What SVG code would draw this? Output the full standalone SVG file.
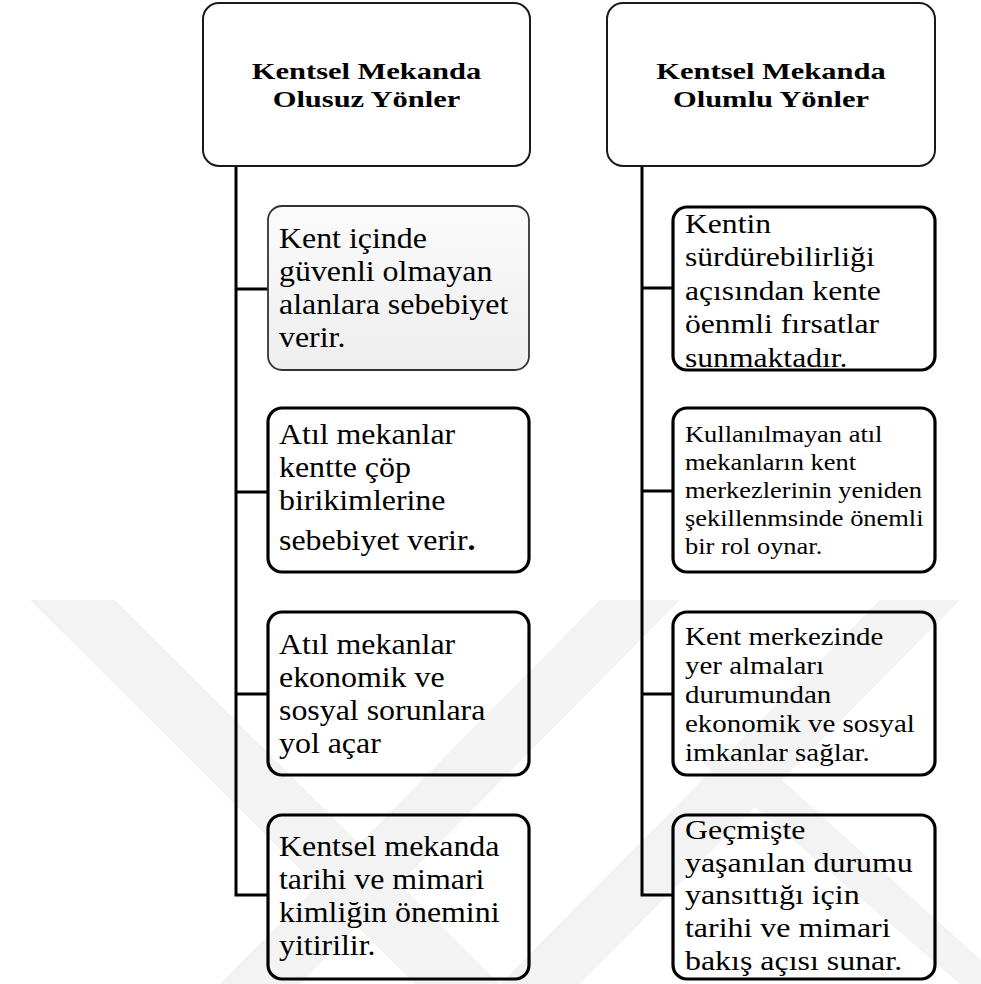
<svg xmlns="http://www.w3.org/2000/svg" width="981" height="984" viewBox="0 0 981 984">
<defs>
<linearGradient id="g1" x1="0" y1="0" x2="0" y2="1">
<stop offset="0" stop-color="#fbfbfb"/>
<stop offset="1" stop-color="#eeeeee"/>
</linearGradient>
<style>
.wm{fill:#f3f3f3}
.head{fill:#ffffff;stroke:#1a1a1a;stroke-width:2}
.box{fill:none;stroke:#000;stroke-width:3.2}
.soft{fill:url(#g1);stroke:#333;stroke-width:1.8}
.conn{fill:none;stroke:#000;stroke-width:3}
.t{font-family:"Liberation Serif","Times New Roman",serif;fill:#000}
.h{font-family:"Liberation Serif","Times New Roman",serif;font-weight:bold;font-size:24px;fill:#000;text-anchor:middle}
</style>
</defs>
<rect width="981" height="984" fill="#fff"/>
<g id="watermark">
<polygon class="wm" points="30,600 115,600 500,984 415,984"/>
<polygon class="wm" points="600,600 680,600 300,984 220,984"/>
<polygon class="wm" points="880,600 960,600 580,984 500,984"/>
<polygon class="wm" points="700,760 760,760 981,960 981,984 960,984"/>
</g>
<g id="connectors">
<path class="conn" d="M236,165 V895 H268 M236,289 H268 M236,492 H268 M236,694 H268"/>
<path class="conn" d="M642,167 V895 H673 M642,288 H673 M642,491 H673 M642,694 H673"/>
</g>
<g id="head-left">
<rect class="head" x="203" y="3" width="327" height="163" rx="16"/>
<text class="h" transform="translate(366.5,79) scale(1.27,1)">Kentsel Mekanda</text>
<text class="h" transform="translate(366.5,107) scale(1.27,1)">Olusuz Yönler</text>
</g>
<g id="head-right">
<rect class="head" x="607" y="3" width="328" height="163" rx="16"/>
<text class="h" transform="translate(771,79) scale(1.27,1)">Kentsel Mekanda</text>
<text class="h" transform="translate(771,107) scale(1.27,1)">Olumlu Yönler</text>
</g>
<g id="left-1">
<rect class="soft" x="268" y="206" width="261" height="164" rx="14"/>
<text class="t" font-size="29" transform="translate(279,248) scale(1.1,1)"><tspan x="0" y="0">Kent içinde</tspan><tspan x="0" y="33">güvenli olmayan</tspan><tspan x="0" y="66">alanlara sebebiyet</tspan><tspan x="0" y="99">verir.</tspan></text>
</g>
<g id="left-2">
<rect class="box" x="268" y="408" width="261" height="164" rx="14"/>
<text class="t" font-size="29" transform="translate(279,444) scale(1.1,1)"><tspan x="0" y="0">Atıl mekanlar</tspan><tspan x="0" y="33">kentte çöp</tspan><tspan x="0" y="66">birikimlerine</tspan><tspan x="0" y="106">sebebiyet verir<tspan font-weight="bold">.</tspan></tspan></text>
</g>
<g id="left-3">
<rect class="box" x="268" y="612" width="261" height="163" rx="14"/>
<text class="t" font-size="29" transform="translate(279,654) scale(1.1,1)"><tspan x="0" y="0">Atıl mekanlar</tspan><tspan x="0" y="33">ekonomik ve</tspan><tspan x="0" y="66">sosyal sorunlara</tspan><tspan x="0" y="99">yol açar</tspan></text>
</g>
<g id="left-4">
<rect class="box" x="268" y="815" width="261" height="164" rx="14"/>
<text class="t" font-size="29" transform="translate(279,856) scale(1.1,1)"><tspan x="0" y="0">Kentsel mekanda</tspan><tspan x="0" y="33">tarihi ve mimari</tspan><tspan x="0" y="66">kimliğin önemini</tspan><tspan x="0" y="99">yitirilir.</tspan></text>
</g>
<g id="right-1">
<rect class="box" x="673" y="207" width="262" height="163" rx="14"/>
<text class="t" font-size="28" transform="translate(685,233) scale(1.13,1)"><tspan x="0" y="0">Kentin</tspan><tspan x="0" y="33.5">sürdürebilirliği</tspan><tspan x="0" y="67">açısından kente</tspan><tspan x="0" y="100.5">öenmli fırsatlar</tspan><tspan x="0" y="134">sunmaktadır.</tspan></text>
</g>
<g id="right-2">
<rect class="box" x="673" y="408" width="262" height="164" rx="14"/>
<text class="t" font-size="23" transform="translate(685,442) scale(1.15,1)"><tspan x="0" y="0">Kullanılmayan atıl</tspan><tspan x="0" y="28">mekanların kent</tspan><tspan x="0" y="56">merkezlerinin yeniden</tspan><tspan x="0" y="84">şekillenmsinde önemli</tspan><tspan x="0" y="112">bir rol oynar.</tspan></text>
</g>
<g id="right-3">
<rect class="box" x="673" y="612" width="262" height="163" rx="14"/>
<text class="t" font-size="25.5" transform="translate(685,645) scale(1.135,1)"><tspan x="0" y="0">Kent merkezinde</tspan><tspan x="0" y="29">yer almaları</tspan><tspan x="0" y="58">durumundan</tspan><tspan x="0" y="87">ekonomik ve sosyal</tspan><tspan x="0" y="116">imkanlar sağlar.</tspan></text>
</g>
<g id="right-4">
<rect class="box" x="673" y="815" width="262" height="164" rx="14"/>
<text class="t" font-size="28" transform="translate(685,839) scale(1.14,1)"><tspan x="0" y="0">Geçmişte</tspan><tspan x="0" y="33">yaşanılan durumu</tspan><tspan x="0" y="65">yansıttığı için</tspan><tspan x="0" y="98">tarihi ve mimari</tspan><tspan x="0" y="131">bakış açısı sunar.</tspan></text>
</g>
</svg>
